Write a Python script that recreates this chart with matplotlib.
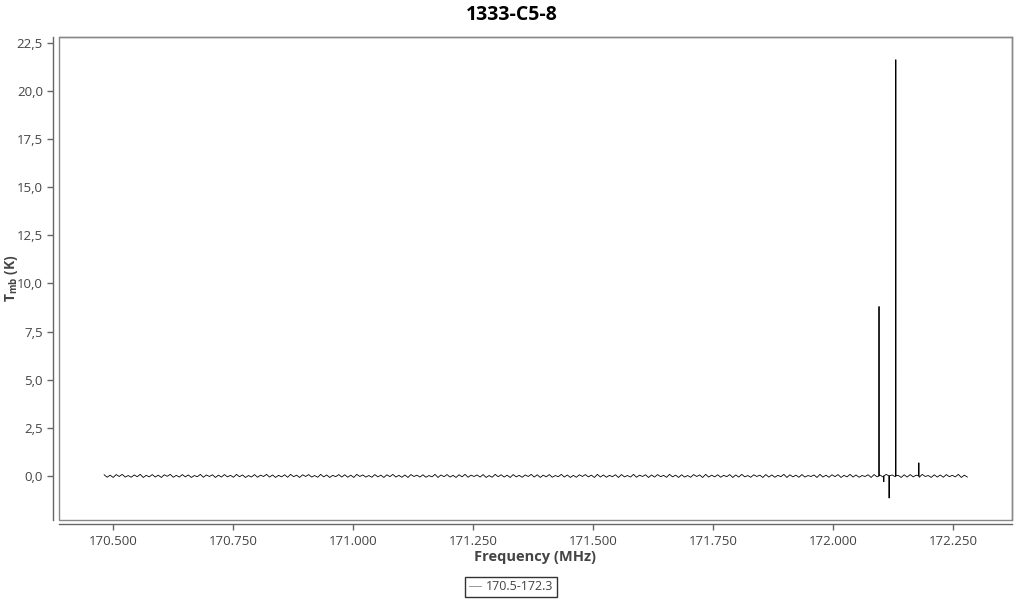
################################################################################
import numpy as np
import matplotlib
matplotlib.use("Agg")
import matplotlib.pyplot as plt
from matplotlib.patches import Rectangle
from matplotlib.ticker import FuncFormatter
################################################################################
# data
title = "1333-C5-8"
series_name = "170.5-172.3"
freq_start, freq_stop = 170.481, 172.279
# baseline noise (K), hand-read along the band, left to right
baseline_tmb = [
    0.06, -0.07, 0.04, -0.08, 0.07, -0.03, 0.08, -0.06, 0.02, -0.07, 0.05, -0.04, 0.08, -0.08, 0.03, -0.05,
    0.07, -0.06, 0.04, -0.08, 0.06, -0.02, 0.08, -0.07, 0.03, -0.06, 0.07, -0.05, 0.05, -0.08, 0.02, -0.04,
    0.08, -0.07, 0.05, -0.03, 0.06, -0.08, 0.04, -0.06, 0.07, -0.05, 0.03, -0.07, 0.08, -0.04, 0.05, -0.08,
    0.02, -0.06, 0.07, -0.07, 0.04, -0.03, 0.08, -0.06, 0.05, -0.08, 0.03, -0.05, 0.06, -0.07, 0.08, -0.04,
    0.04, -0.08, 0.06, -0.03, 0.07, -0.06, 0.02, -0.07, 0.08, -0.05, 0.05, -0.08, 0.03, -0.04, 0.07, -0.06,
    0.06, -0.07, 0.04, -0.08, 0.08, -0.03, 0.05, -0.06, 0.02, -0.07, 0.07, -0.05, 0.04, -0.08, 0.06, -0.04,
    0.08, -0.06, 0.03, -0.07, 0.05, -0.08, 0.07, -0.03, 0.04, -0.06, 0.06, -0.07, 0.02, -0.05, 0.08, -0.08,
    0.05, -0.04, 0.07, -0.06, 0.03, -0.08, 0.06, -0.05, 0.08, -0.07, 0.04, -0.03, 0.05, -0.06, 0.07, -0.08,
    0.02, -0.07, 0.08, -0.04, 0.06, -0.06, 0.04, -0.08, 0.07, -0.05, 0.03, -0.07, 0.05, -0.03, 0.08, -0.06,
    0.06, -0.08, 0.04, -0.05, 0.07, -0.07, 0.02, -0.04, 0.08, -0.06, 0.05, -0.08, 0.03, -0.07, 0.06, -0.03,
    0.07, -0.05, 0.04, -0.08, 0.08, -0.06, 0.05, -0.07, 0.03, -0.04, 0.06, -0.08, 0.07, -0.05, 0.02, -0.06,
    0.08, -0.07, 0.04, -0.03, 0.06, -0.08, 0.05, -0.06, 0.07, -0.04, 0.03, -0.07, 0.08, -0.05, 0.04, -0.08,
    0.06, -0.06, 0.02, -0.07, 0.07, -0.03, 0.05, -0.08, 0.08, -0.06, 0.04, -0.05, 0.06, -0.07, 0.03, -0.04,
    0.07, -0.08, 0.05, -0.06, 0.08, -0.05, 0.02, -0.07, 0.06, -0.03, 0.04, -0.08, 0.07, -0.06, 0.05, -0.07,
    0.03, -0.04, 0.08, -0.08, 0.06, -0.05, 0.04, -0.07, 0.07, -0.06, 0.02, -0.03, 0.05, -0.08, 0.08, -0.06,
    0.04, -0.07, 0.06, -0.04, 0.07, -0.08, 0.03, -0.05, 0.08, -0.06, 0.05, -0.07, 0.02, -0.03, 0.06, -0.08,
    0.07, -0.05, 0.04, -0.06, 0.08, -0.07, 0.05, -0.04, 0.03, -0.08, 0.06, -0.06, 0.07, -0.05, 0.04, -0.07,
    0.08, -0.03, 0.02, -0.08, 0.06, -0.06, 0.05, -0.07, 0.07, -0.04, 0.03, -0.05, 0.08, -0.08, 0.04, -0.06,
]
# spectral lines: (frequency MHz, peak Tmb K)
line_freq = [172.0950, 172.1050, 172.1160, 172.1300, 172.1780]
line_tmb = [8.80, -0.30, -1.15, 21.62, 0.68]
################################################################################
styles = {
    'spec': {'color': '#000000', 'lw': 0.6},
    'text': '#444444',
    'frame': '#888888',
}
################################################################################
# build one spectrum from baseline channels plus the lines
base_freq = np.linspace(freq_start, freq_stop, len(baseline_tmb))
freq = list(base_freq)
tmb = list(baseline_tmb)
for f, t in zip(line_freq, line_tmb):
    freq += [f - 0.0003, f, f + 0.0003]
    tmb += [0.0, t, 0.0]
order = np.argsort(freq)
freq = np.array(freq)[order]
tmb = np.array(tmb)[order]
################################################################################
plt.rcParams['font.family'] = ['Open Sans', 'DejaVu Sans']
plt.rcParams['mathtext.fontset'] = 'custom'
plt.rcParams['mathtext.bf'] = 'Open Sans:bold'
plt.rcParams['mathtext.rm'] = 'Open Sans'

fig = plt.figure(figsize=(10.24, 6.0), dpi=100)
ax = fig.add_axes([59/1024, 1-520/600, (1012-59)/1024, (520-37)/600])
ax.plot(freq, tmb, label=series_name, **styles['spec'])

ax.set_xlim(170.387, 172.372)
ax.set_ylim(-2.29, 22.8)
ax.set_xticks([170.5, 170.75, 171.0, 171.25, 171.5, 171.75, 172.0, 172.25])
ax.set_yticks(np.arange(0, 22.6, 2.5))
ax.xaxis.set_major_formatter(FuncFormatter(lambda v, p: "%.3f" % v))
ax.yaxis.set_major_formatter(FuncFormatter(lambda v, p: ("%.1f" % v).replace('.', ',')))

for s in ['top', 'right']:
    ax.spines[s].set_color(styles['frame'])
    ax.spines[s].set_linewidth(1.0)
ax.spines['left'].set_position(('outward', 4))
ax.spines['bottom'].set_position(('outward', 3))
for s in ['left', 'bottom']:
    ax.spines[s].set_color('#666666')
    ax.spines[s].set_linewidth(1.0)
ax.add_patch(Rectangle((0, 0), 1, 1, transform=ax.transAxes, fill=False,
                       edgecolor=styles['frame'], lw=1.0, clip_on=False))
ax.tick_params(axis='both', colors='#666666', labelcolor=styles['text'],
               labelsize=9.5, length=4, width=1)

ax.set_xlabel("Frequency (MHz)", fontsize=10.5, fontweight='bold',
              color=styles['text'])
ax.xaxis.set_label_coords(0.5, -(557-520)/483, transform=ax.transAxes)
ax.set_ylabel(r"$\mathbf{T_{mb}}$ (K)", fontsize=10, fontweight='bold',
              color=styles['text'])
ax.yaxis.set_label_coords(-(59-11)/953, 0.5)
ax.xaxis.label.set_va('center')
ax.yaxis.label.set_va('center')
fig.text(0.5, 1-15/600, title, fontsize=14, fontweight='bold',
         ha='center', va='center')

leg = fig.legend(loc='center', bbox_to_anchor=(511/1024, 1-587/600),
                 fontsize=9, frameon=True, fancybox=False, handlelength=1.0,
                 handletextpad=0.4, borderpad=0.3, borderaxespad=0)
leg.get_frame().set_edgecolor('#000000')
leg.get_frame().set_linewidth(1.0)
for t in leg.get_texts():
    t.set_color(styles['text'])
for h in leg.get_lines():
    h.set_color('#888888')

fig.savefig("out.png", dpi=100)
